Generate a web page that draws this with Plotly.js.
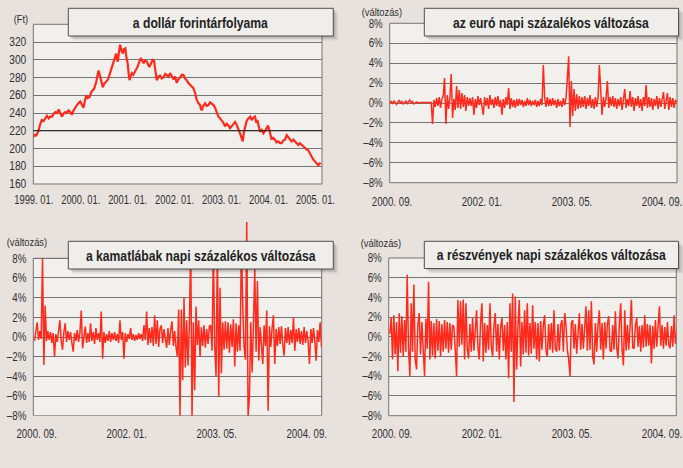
<!DOCTYPE html>
<html><head><meta charset="utf-8">
<script src="https://cdn.plot.ly/plotly-3.0.1.min.js"></script>
<style>html,body{margin:0;padding:0;background:#e8e2de;overflow:hidden}#chart{width:683px;height:468px}</style>
</head><body><div id="chart"></div>
<script>
// ---------- DATA ----------
// Panel 1: USD/HUF exchange rate (Ft), time as fractional year
const dollarYear = [1999.00,1999.03,1999.05,1999.07,1999.10,1999.13,1999.17,1999.21,1999.25,1999.28,1999.32,1999.35,1999.39,1999.42,1999.46,1999.50,1999.53,1999.57,1999.60,1999.63,1999.67,1999.70,1999.74,1999.78,1999.81,1999.85,1999.88,1999.92,1999.95,1999.99,
2000.02,2000.06,2000.09,2000.12,2000.15,2000.19,2000.22,2000.26,2000.29,2000.33,2000.36,2000.38,2000.40,2000.43,2000.45,2000.47,2000.50,2000.54,2000.57,2000.59,2000.62,2000.64,2000.67,2000.70,2000.72,2000.755,2000.77,2000.79,2000.815,2000.84,2000.87,2000.90,2000.92,2000.95,2000.97,
2001.00,2001.02,2001.04,2001.06,2001.09,2001.12,2001.16,2001.19,2001.21,2001.25,2001.28,2001.31,2001.34,2001.37,2001.41,2001.44,2001.46,2001.50,2001.53,2001.56,2001.59,2001.62,2001.655,2001.69,2001.725,2001.76,2001.80,2001.83,2001.87,2001.904,2001.94,2001.975,
2002.01,2002.046,2002.08,2002.117,2002.15,2002.188,2002.22,2002.259,2002.29,2002.33,2002.37,2002.40,2002.44,2002.47,2002.51,2002.543,2002.56,2002.578,2002.61,2002.649,2002.68,2002.72,2002.755,2002.791,2002.83,2002.862,2002.90,2002.933,2002.97,
2003.004,2003.04,2003.074,2003.11,2003.145,2003.18,2003.216,2003.25,2003.287,2003.32,2003.358,2003.38,2003.408,2003.43,2003.45,2003.475,2003.50,2003.535,2003.571,2003.61,2003.642,2003.68,2003.713,2003.74,2003.762,2003.79,2003.819,2003.855,2003.89,2003.93,2003.961,2003.99,
2004.018,2004.04,2004.067,2004.10,2004.138,2004.17,2004.209,2004.245,2004.28,2004.315,2004.351,2004.39,2004.422,2004.46,2004.493,2004.53,2004.564,2004.60,2004.635,2004.67,2004.706,2004.74,2004.777,2004.81,2004.847,2004.88,2004.918,2004.95,2004.989,2005.02,2005.06,2005.09,2005.11];
const dollarFt = [213,216,214,216,220,226,232,231,235,237,234,236,236,239,241,240,244,240,236,239,241,240,243,241,238,243,246,249,251,253,
250,246,254,260,257,258,263,266,268,275,282,288,284,277,272,269,273,275,277,279,284,288,293,300,302,307,301,298,309,317,310,307,312,313,304,
296,285,277,281,285,283,287,290,292,298,302,299,296,299,298,294,292,296,300,299,286,277,281,282,279,280,284,283,281,285,281,278,
281,274,278,280,283,283,279,277,274,272,270,268,262,255,251,249,245,243,248,251,248,249,252,251,249,246,240,236,234,
232,229,225,228,226,223,225,228,230,227,223,219,215,211,208,218,225,231,234,236,232,235,236,229,232,224,219,221,217,220,223,226,
221,214,210,212,210,207,208,206,206,209,210,215,213,210,208,210,208,205,204,206,204,202,200,199,198,194,191,188,185,183,181,183,184];

// Panels 2-4: daily % changes, evenly spaced trading days
const dayStart = 2000.635, dayEnd = 2004.886;
const euroChange = [
0.0,0.15,-0.1,0.2,0.05,-0.15,0.1,0.25,-0.05,0.15,-0.1,0.1,
0.2,-0.05,0.1,0.3,0.0,0.15,-0.1,0.05,0.1,0.05,0.0,0.05,
0.05,0.05,0.1,0.05,0.05,0.1,0.05,0.05,-2.1,0.3,-0.4,0.5,
-0.3,0.6,-0.5,0.4,0.7,2.5,-2.1,0.8,-0.6,0.5,2.9,-1.5,
0.4,-0.7,1.7,-0.5,1.3,-0.6,1.0,-0.4,0.8,-0.8,0.6,-0.3,
0.5,-0.3,0.6,-1.2,0.4,-0.5,0.7,-0.2,0.5,-0.4,-1.2,0.6,
-0.3,0.5,-0.6,0.8,-0.2,0.4,-0.5,0.6,-0.3,0.7,-0.4,0.3,
-1.2,0.4,-0.5,0.6,-0.2,1.5,-0.6,0.5,-0.4,0.3,-0.5,0.4,
-0.3,0.4,-0.2,0.3,-0.4,0.2,-0.3,0.5,-0.2,0.3,-0.3,0.2,
-0.2,0.3,-0.4,0.2,-0.3,0.4,-0.2,3.8,0.5,-0.4,0.6,-0.3,
0.4,-0.3,0.5,-0.2,0.3,-0.5,0.4,-0.3,0.2,-0.4,0.5,-0.2,
0.5,2.5,4.7,-2.4,2.2,-1.3,1.4,-0.8,0.9,-0.6,0.7,-0.5,
0.6,-0.4,0.7,-0.6,0.5,-0.3,0.8,-0.5,0.4,-0.6,0.6,-0.4,
0.5,3.8,0.4,-1.2,0.6,-0.4,0.5,2.2,-0.5,0.6,-0.3,0.7,
-0.4,0.5,-0.6,0.4,-0.3,0.6,-0.7,0.5,1.4,-0.5,0.4,-0.3,
1.2,-0.4,0.6,-0.8,0.5,-0.3,0.7,-0.5,0.4,-0.8,0.6,-0.3,
1.8,-0.5,0.6,-0.4,0.5,-0.7,0.4,-0.3,0.7,-0.6,0.5,-0.4,
0.4,1.1,-0.6,0.5,1.0,-0.7,0.6,-0.4,0.5,-0.5,0.3,0.1];
const rateChange = [
-0.4,0.5,1.5,-0.3,0.6,-0.2,8.0,-2.85,3.2,-0.4,0.6,-0.3,
0.5,-0.6,0.4,-2.0,0.3,-0.5,0.6,1.7,-0.4,-1.3,0.5,1.4,
-0.5,0.6,-0.3,0.5,-0.6,-1.5,0.4,-0.4,0.7,-0.5,0.4,2.7,
-1.15,0.3,1.05,-0.6,0.4,-0.5,1.4,-0.4,0.5,-0.7,0.9,-0.3,
0.4,-0.5,2.6,-2.2,0.5,-0.6,0.3,-0.4,0.6,-0.5,0.4,-0.3,
0.5,-0.4,0.3,-0.6,1.7,-0.3,0.5,-2.2,0.4,-0.5,0.3,-0.2,
0.9,-0.3,0.3,-0.4,0.2,-0.3,0.4,-0.2,0.3,-0.4,1.2,-0.3,
2.6,-0.8,0.9,-0.6,1.0,-0.9,2.2,-0.7,1.7,-1.0,0.8,1.2,
-0.6,0.8,-0.5,-1.1,0.9,-0.8,0.7,1.6,-0.9,0.6,-1.0,-2.0,
2.8,-8.1,2.8,-4.4,4.0,-3.1,1.7,-2.9,1.0,9.5,-8.1,1.5,
-5.4,3.1,-0.8,1.7,-2.0,1.0,-0.9,1.2,-1.1,0.8,-0.7,1.1,
1.2,-1.4,9.0,-1.0,-4.0,9.0,-6.1,5.0,-3.7,1.5,-1.3,1.6,
-1.2,1.5,-1.6,1.3,-1.0,1.8,-3.0,1.4,-1.5,1.2,-1.4,9.5,
3.1,-1.0,-2.3,11.7,-8.1,-6.1,1.5,-3.6,1.2,6.9,-1.5,5.7,
-2.4,1.0,-0.8,-2.75,1.2,-0.9,2.7,-7.5,1.1,-1.0,0.9,2.2,
-2.75,0.8,-0.9,1.0,-0.7,1.1,-0.8,-1.9,0.9,-0.6,1.0,-0.8,
0.7,-0.6,2.0,-1.4,0.8,-0.5,0.9,-0.7,0.6,-0.8,1.0,-0.6,
0.6,-0.5,-2.75,0.8,-0.6,0.9,-0.4,-2.4,0.7,-0.5,1.5,-1.05];
const shareChange = [
0.3,2.0,-2.3,2.2,-1.8,1.5,-3.5,2.4,-1.6,2.1,-2.0,1.7,
-1.5,6.3,-1.2,-4.0,3.4,-1.5,5.3,-2.3,-3.3,1.2,2.4,-1.8,
1.5,-2.0,-4.0,1.8,-1.2,5.6,-2.3,1.6,-1.9,1.4,-2.2,1.8,
-1.4,1.6,-2.0,1.3,-1.5,1.7,-1.2,1.5,-1.6,1.4,-1.3,1.2,
1.0,-1.3,-4.0,3.75,-1.0,3.6,-0.8,3.8,-2.3,3.4,-1.2,-2.2,
1.3,-1.5,1.9,-1.4,1.2,2.7,-1.1,-2.3,1.5,3.4,-2.5,1.4,
-1.6,1.2,-1.3,3.4,-0.9,-2.0,1.1,2.4,-1.5,1.3,-2.3,1.0,
1.9,-1.4,1.2,-2.3,1.5,-4.2,3.4,-1.5,4.4,-6.6,4.1,-3.3,
1.0,3.75,-3.0,1.5,-1.8,2.7,-1.6,3.4,-1.9,1.4,-1.7,3.2,
-1.2,1.5,-2.3,1.4,-2.5,1.6,-1.3,1.2,2.2,-1.4,-2.0,1.3,
-1.3,1.4,-1.6,2.7,-1.2,-1.5,1.3,-1.4,1.2,1.7,-1.5,2.4,
1.2,-1.3,-2.3,-4.0,1.4,1.7,-1.2,1.3,-1.7,1.1,2.4,-1.3,
1.3,-1.2,1.5,3.1,-1.4,2.7,-1.3,3.6,-2.0,-2.8,1.4,-1.5,
1.2,2.7,-1.3,1.4,-2.3,1.5,-1.2,1.3,2.1,-1.4,-1.5,1.2,
-1.3,2.6,-1.1,-2.2,1.4,3.4,-1.3,-2.9,2.7,-1.4,1.2,-1.3,
1.0,3.75,-1.1,-1.2,1.2,1.9,-1.0,1.1,-1.5,1.2,-1.1,2.2,
-1.0,1.3,-0.9,1.2,-2.7,1.1,-1.2,1.7,-1.0,1.3,3.1,-0.9,
1.2,-1.2,1.0,-0.9,1.5,-0.8,-1.15,1.1,-1.0,2.2,-0.7,0.5];

// Tick labels
const dollarTickVals = [1999,2000,2001,2002,2003,2004,2005];
const dollarTickText = ['1999. 01.','2000. 01.','2001. 01.','2002. 01.','2003. 01.','2004. 01.','2005. 01.'];
const ftTickVals = [160,180,200,220,240,260,280,300,320];
const dayTickVals = [2000.667,2002.0,2003.333,2004.667];
const dayTickText = ['2000. 09.','2002. 01.','2003. 05.','2004. 09.'];
const pctTickVals = [-8,-6,-4,-2,0,2,4,6,8];
const pctTickText = ['–8%','–6%','–4%','–2%','0%','2%','4%','6%','8%'];
const titles = ['a dollár forintárfolyama','az euró napi százalékos változása','a kamatlábak napi százalékos változása','a részvények napi százalékos változása'];

// ---------- RENDER ----------
const W = 683, H = 468;
const fx = v => v / W, fy = v => 1 - v / H;
const FONT = "'Liberation Sans', Arial, sans-serif";
const RED = '#ff2a1c', GRID = '#747474', PLOTBG = '#f2f0ed', PAGE = '#e8e2de', TXT = '#2e2e2e';

const dayX = arr => arr.map((v, i) => dayStart + i * (dayEnd - dayStart) / (arr.length - 1));

const traces = [
  {x: dollarYear, y: dollarFt, xaxis: 'x', yaxis: 'y', type: 'scatter', mode: 'lines', line: {color: RED, width: 2.2}},
  {x: dayX(euroChange), y: euroChange, xaxis: 'x2', yaxis: 'y2', type: 'scatter', mode: 'lines', line: {color: RED, width: 1.5}},
  {x: dayX(rateChange), y: rateChange, xaxis: 'x3', yaxis: 'y3', type: 'scatter', mode: 'lines', line: {color: RED, width: 1.5}},
  {x: dayX(shareChange), y: shareChange, xaxis: 'x4', yaxis: 'y4', type: 'scatter', mode: 'lines', line: {color: RED, width: 1.5}}
];

const xBase = {showgrid: false, zeroline: false, showline: false, ticks: '', tickangle: 0, ticklabeloverflow: 'allow', tickfont: {family: FONT, size: 12, color: TXT}, ticklabelstandoff: 8, fixedrange: true};
const yBase = {showgrid: true, gridcolor: GRID, gridwidth: 1, zeroline: false, showline: false, ticks: '', ticklabeloverflow: 'allow', tickfont: {family: FONT, size: 12, color: TXT}, ticklabelstandoff: 6, fixedrange: true};

const layout = {
  width: W, height: H, margin: {l: 0, r: 0, t: 0, b: 0},
  paper_bgcolor: PAGE, plot_bgcolor: 'rgba(0,0,0,0)', showlegend: false,
  xaxis: Object.assign({}, xBase, {domain: [fx(33.3), fx(322)], range: [1998.99, 2005.14], tickvals: dollarTickVals, ticktext: dollarTickText, anchor: 'y', ticklabelstandoff: 7}),
  yaxis: Object.assign({}, yBase, {domain: [fy(184), fy(24.3)], range: [160, 340], tickvals: ftTickVals, anchor: 'x'}),
  xaxis2: Object.assign({}, xBase, {domain: [fx(389.7), fx(677)], range: [2000.633, 2004.889], tickvals: dayTickVals, ticktext: dayTickText, anchor: 'y2', ticklabelstandoff: 10}),
  yaxis2: Object.assign({}, yBase, {domain: [fy(182.7), fy(23.3)], range: [-8, 8], tickvals: pctTickVals, ticktext: pctTickText, anchor: 'x2'}),
  xaxis3: Object.assign({}, xBase, {domain: [fx(33.3), fx(321.7)], range: [2000.617, 2004.889], tickvals: dayTickVals, ticktext: dayTickText, anchor: 'y3', ticklabelstandoff: 9}),
  yaxis3: Object.assign({}, yBase, {domain: [fy(415.7), fy(218.95)], range: [-8, 12], tickvals: pctTickVals, ticktext: pctTickText, anchor: 'x3'}),
  xaxis4: Object.assign({}, xBase, {domain: [fx(388.7), fx(676.3)], range: [2000.618, 2004.879], tickvals: dayTickVals, ticktext: dayTickText, anchor: 'y4', ticklabelstandoff: 9}),
  yaxis4: Object.assign({}, yBase, {domain: [fy(415.7), fy(258)], range: [-8, 8], tickvals: pctTickVals, ticktext: pctTickText, anchor: 'x4'}),
  shapes: [], annotations: []
};

// plot-area boxes
[['x', 'y'], ['x2', 'y2'], ['x4', 'y4']].forEach(([xa, ya]) => {
  layout.shapes.push({type: 'rect', xref: xa + ' domain', yref: ya + ' domain', x0: 0, x1: 1, y0: 0, y1: 1, fillcolor: PLOTBG, line: {color: GRID, width: 1}, layer: 'below'});
});
layout.shapes.push({type: 'rect', xref: 'x3 domain', yref: 'y3', x0: 0, x1: 1, y0: -8, y1: 8, fillcolor: PLOTBG, line: {color: GRID, width: 1}, layer: 'below'});
// darker reference line at 220 Ft
layout.shapes.push({type: 'line', xref: 'x domain', yref: 'y', x0: 0, x1: 1, y0: 220, y1: 220, line: {color: '#1a1a1a', width: 1}, layer: 'above'});

// title boxes with soft shadow
const boxes = [[68.3, 8.3, 333.3, 36], [424.3, 8.3, 678.5, 36], [68.3, 241.3, 333.3, 269], [424.3, 241.3, 678.5, 268.5]];
boxes.forEach((b, i) => {
  [[4.5, 0.07], [3, 0.09], [1.5, 0.1]].forEach(([o, a]) => {
    layout.shapes.push({type: 'rect', xref: 'paper', yref: 'paper', x0: fx(b[0] + o), x1: fx(b[2] + o), y0: fy(b[3] + o), y1: fy(b[1] + o), fillcolor: 'rgba(0,0,0,' + a + ')', line: {width: 0}, layer: 'above'});
  });
  layout.shapes.push({type: 'rect', xref: 'paper', yref: 'paper', x0: fx(b[0]), x1: fx(b[2]), y0: fy(b[3]), y1: fy(b[1]), fillcolor: '#f0eeeb', line: {color: '#505050', width: 1}, layer: 'above'});
  layout.annotations.push({xref: 'paper', yref: 'paper', x: fx((b[0] + b[2]) / 2), y: fy((b[1] + b[3]) / 2), text: titles[i], showarrow: false, xanchor: 'center', yanchor: 'middle', font: {family: FONT, size: 15, color: '#222', weight: 700}});
});

// unit labels
[[20.5, 19, '(Ft)'], [382, 12, '(változás)'], [26.5, 242, '(változás)'], [381, 243, '(változás)']].forEach(u => {
  layout.annotations.push({xref: 'paper', yref: 'paper', x: fx(u[0]), y: fy(u[1]), text: u[2], showarrow: false, xanchor: 'center', yanchor: 'middle', font: {family: FONT, size: 11.5, color: TXT}});
});

// condense all texts horizontally (the original uses a narrow typeface)
function condense(gd) {
  gd.querySelectorAll('text').forEach(t => {
    if (!t.textContent.trim()) return;
    const len = t.getComputedTextLength();
    if (!len) return;
    let f = 0.81;
    if (t.closest('.xtick')) f = 0.78;
    else if (t.closest('.ytick')) f = 0.85;
    t.setAttribute('textLength', (len * f).toFixed(2));
    t.setAttribute('lengthAdjust', 'spacingAndGlyphs');
  });
}

Plotly.newPlot('chart', traces, layout, {staticPlot: true, displayModeBar: false}).then(condense);
</script>
</body></html>
